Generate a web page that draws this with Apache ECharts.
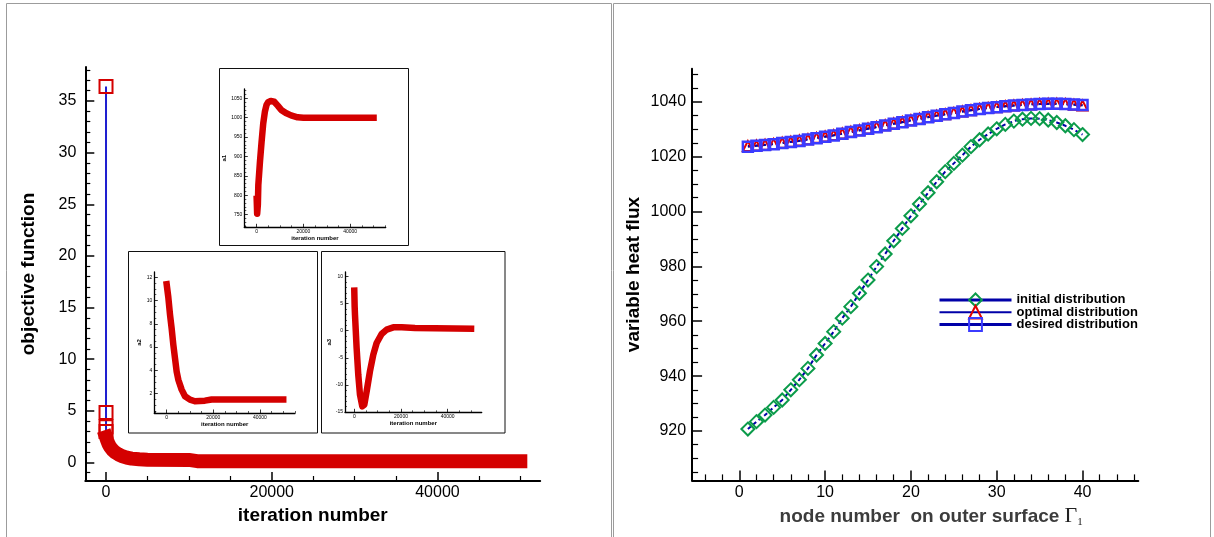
<!DOCTYPE html>
<html>
<head>
<meta charset="utf-8">
<title>objective function / variable heat flux</title>
<script src="https://cdn.jsdelivr.net/npm/echarts@6.0.0/dist/echarts.min.js"></script>
<style>
    html, body { margin: 0; padding: 0; background: #fff; }
    #chart { width: 1214px; height: 537px; }
</style>
</head>
<body>
<div id="chart"></div>
<script>
// ================================
// 1. data
// ================================
// left panel: objective function vs iteration number
const objStartIter = [0, 1, 2, 3];
const objStartValue = [36.4, 4.84, 3.45, 3.0];
const objIter = [0, 150, 300, 500, 800, 1100, 1500, 1900, 2500, 3100, 4000, 5000, 10000, 11000, 50000];
const objValue = [2.45, 2.1, 1.8, 1.5, 1.2, 0.98, 0.78, 0.62, 0.47, 0.37, 0.3, 0.26, 0.24, 0.12, 0.12];

// inset a1
const a1Iter = [0, 200, 500, 700, 1400, 2100, 2800, 3500, 4200, 4900, 6000, 7500, 9000, 10500, 12500, 14700, 17500, 20000, 50000];
const a1Value = [790, 752, 775, 826, 886, 938, 985, 1015, 1033, 1040, 1043, 1041, 1031, 1020, 1012, 1006, 1001, 1000, 1000];
// inset a2
const a2Iter = [0, 700, 1430, 2140, 2860, 3570, 4290, 5000, 6430, 7860, 10000, 12100, 16400, 19300, 50000];
const a2Value = [11.4, 10.3, 8.8, 7.6, 6.2, 5.06, 3.9, 3.2, 2.35, 1.78, 1.49, 1.35, 1.4, 1.5, 1.5];
// inset a3
const a3Iter = [0, 150, 300, 1000, 1700, 2430, 3430, 4290, 5290, 6700, 8140, 9570, 11700, 13860, 16700, 20300, 26000, 50000];
const a3Value = [7.4, 4.5, 2.9, -3.2, -8.1, -11.8, -13.95, -13.65, -11.2, -7.5, -4.4, -2.27, -0.6, 0.2, 0.62, 0.62, 0.5, 0.37];

// right panel: heat flux on the outer surface
const nodes = [1, 2, 3, 4, 5, 6, 7, 8, 9, 10, 11, 12, 13, 14, 15, 16, 17, 18, 19, 20,
    21, 22, 23, 24, 25, 26, 27, 28, 29, 30, 31, 32, 33, 34, 35, 36, 37, 38, 39, 40];
const initialFlux = [920.7, 923.4, 925.8, 928.6, 931.3, 935.0, 938.7, 942.8, 947.7, 951.9,
    956.2, 961.1, 965.3, 970.2, 975.0, 979.9, 984.5, 989.3, 993.8, 998.4,
    1002.7, 1006.8, 1010.8, 1014.5, 1017.5, 1020.5, 1023.6, 1026.1, 1028.2, 1030.1,
    1031.7, 1032.9, 1033.6, 1033.9, 1033.8, 1033.3, 1032.4, 1031.2, 1029.8, 1028.0];
const optimalFlux = [1023.8, 1024.0, 1024.3, 1024.6, 1025.0, 1025.4, 1025.8, 1026.3, 1026.8, 1027.3,
    1027.8, 1028.4, 1029.0, 1029.6, 1030.2, 1030.8, 1031.4, 1032.0, 1032.6, 1033.2,
    1033.8, 1034.4, 1034.9, 1035.4, 1035.9, 1036.4, 1036.9, 1037.3, 1037.7, 1038.0,
    1038.3, 1038.6, 1038.8, 1039.0, 1039.1, 1039.2, 1039.2, 1039.1, 1038.9, 1038.6];
const desiredFlux = [1023.6, 1023.9, 1024.2, 1024.5, 1024.9, 1025.3, 1025.7, 1026.2, 1026.7, 1027.2,
    1027.7, 1028.3, 1028.9, 1029.5, 1030.1, 1030.7, 1031.3, 1031.9, 1032.5, 1033.1,
    1033.7, 1034.3, 1034.9, 1035.4, 1035.9, 1036.4, 1036.9, 1037.3, 1037.7, 1038.0,
    1038.3, 1038.6, 1038.8, 1039.0, 1039.1, 1039.2, 1039.2, 1039.1, 1039.0, 1038.8];

// tick labels
const iterTicks = [0, 20000, 40000];
const objTicks = [0, 5, 10, 15, 20, 25, 30, 35];
const a1Ticks = [750, 800, 850, 900, 950, 1000, 1050];
const a2Ticks = [2, 4, 6, 8, 10, 12];
const a3Ticks = [-15, -10, -5, 0, 5, 10];
const nodeTicks = [0, 10, 20, 30, 40];
const fluxTicks = [920, 940, 960, 980, 1000, 1020, 1040];

// ================================
// 2. helpers
// ================================
const FONT = '"Liberation Sans", Arial, Helvetica, sans-serif';
const SERIF = '"Liberation Serif", "DejaVu Serif", serif';
const RED = '#d40000';
const NAVY = '#0000a8';

const zip = (xs, ys) => xs.map((x, i) => [x, ys[i]]);

// minor tick positions between the labelled ones
function minorTicks(min, max, step, majorStep) {
    const out = [];
    for (let v = Math.ceil(min / step) * step; v <= max + 1e-9; v += step) {
        const r = Math.round(v * 1000) / 1000;
        const k = r / majorStep;
        if (Math.abs(k - Math.round(k)) > 1e-6) out.push(r);
    }
    return out;
}

// one labelled axis + one axis only for the short minor ticks
function axisPair(dim, gridIndex, c) {
    const position = dim === 'x' ? 'bottom' : 'left';
    const major = {
        type: 'value', gridIndex, position, min: c.min, max: c.max,
        axisLine: { show: true, onZero: false, lineStyle: { color: '#000', width: c.lineWidth } },
        axisTick: {
            show: true, inside: true, length: c.majorLen, customValues: c.major,
            lineStyle: { color: '#000', width: c.tickWidth }
        },
        axisLabel: {
            customValues: c.major, margin: c.labelMargin, color: '#000',
            fontSize: c.fontSize, fontFamily: FONT, formatter: v => String(v)
        },
        splitLine: { show: false },
        name: c.name, nameLocation: 'middle', nameGap: c.nameGap,
        nameTextStyle: c.nameStyle,
        silent: true,
    };
    const minor = {
        type: 'value', gridIndex, position, offset: 0, min: c.min, max: c.max,
        axisLine: { show: false, onZero: false },
        axisTick: {
            show: true, inside: true, length: c.minorLen,
            customValues: minorTicks(c.min, c.max, c.minorStep, c.majorStep),
            lineStyle: { color: '#000', width: c.tickWidth * 0.8 }
        },
        axisLabel: { show: false },
        splitLine: { show: false },
        silent: true,
    };
    return [major, minor];
}

const bigName = { fontFamily: FONT, fontWeight: 'bold', fontSize: 19, color: '#000' };
const smallName = { fontFamily: FONT, fontWeight: 'bold', fontSize: 6, color: '#000' };

const mainStyle = { lineWidth: 2, tickWidth: 1.5, majorLen: 9, minorLen: 5, fontSize: 16 };
const insetStyle = { lineWidth: 1.3, tickWidth: 0.8, majorLen: 3.5, minorLen: 2, fontSize: 5, labelMargin: 2 };

// ================================
// 3. axes
// ================================
const xAxes = [
    // left main
    ...axisPair('x', 0, Object.assign({}, mainStyle, {
        min: -2500, max: 52400, major: iterTicks, majorStep: 20000, minorStep: 5000,
        labelMargin: 4, name: 'iteration number', nameGap: 18, nameStyle: bigName
    })),
    // a1
    ...axisPair('x', 1, Object.assign({}, insetStyle, {
        min: -5300, max: 55200, major: iterTicks, majorStep: 20000, minorStep: 5000,
        name: 'iteration number', nameGap: 6, nameStyle: smallName
    })),
    // a2
    ...axisPair('x', 2, Object.assign({}, insetStyle, {
        min: -5300, max: 55050, major: iterTicks, majorStep: 20000, minorStep: 5000,
        name: 'iteration number', nameGap: 7, nameStyle: smallName
    })),
    // a3
    ...axisPair('x', 3, Object.assign({}, insetStyle, {
        min: -3980, max: 54560, major: iterTicks, majorStep: 20000, minorStep: 5000,
        name: 'iteration number', nameGap: 7, nameStyle: smallName
    })),
    // right
    ...axisPair('x', 4, Object.assign({}, mainStyle, {
        min: -5.5, max: 46.5, major: nodeTicks, majorStep: 10, minorStep: 2,
        majorLen: 10, minorLen: 6, labelMargin: 4,
        name: 'node number  on outer surface {g|Γ}{s|1}', nameGap: 17,
        nameStyle: {
            fontFamily: FONT, fontWeight: 'bold', fontSize: 19, color: '#3c3c3c',
            padding: [0, 0, 0, 32],
            rich: {
                g: { fontFamily: SERIF, fontSize: 22, color: '#222', fontWeight: 'normal' },
                s: { fontFamily: SERIF, fontSize: 11, color: '#222', fontWeight: 'normal', verticalAlign: 'bottom' }
            }
        }
    })),
];

const yAxes = [
    ...axisPair('y', 0, Object.assign({}, mainStyle, {
        min: -1.8, max: 38.3, major: objTicks, majorStep: 5, minorStep: 1,
        labelMargin: 9, name: 'objective function', nameGap: 47, nameStyle: bigName
    })),
    ...axisPair('y', 1, Object.assign({}, insetStyle, {
        min: 717, max: 1074, major: a1Ticks, majorStep: 50, minorStep: 10,
        name: 'a1', nameGap: 14, nameStyle: smallName
    })),
    ...axisPair('y', 2, Object.assign({}, insetStyle, {
        min: 0.34, max: 12.45, major: a2Ticks, majorStep: 2, minorStep: 0.5,
        name: 'a2', nameGap: 8, nameStyle: smallName
    })),
    ...axisPair('y', 3, Object.assign({}, insetStyle, {
        min: -15.05, max: 10.83, major: a3Ticks, majorStep: 5, minorStep: 1,
        name: 'a3', nameGap: 13, nameStyle: smallName
    })),
    ...axisPair('y', 4, Object.assign({}, mainStyle, {
        min: 902, max: 1052, major: fluxTicks, majorStep: 20, minorStep: 5,
        majorLen: 10, minorLen: 6, labelMargin: 6,
        name: 'variable heat flux', nameGap: 49, nameStyle: bigName
    })),
];

// ================================
// 4. series
// ================================
const bandLine = (xi, data, width) => ({
    type: 'line', xAxisIndex: xi, yAxisIndex: xi, data, symbol: 'none',
    lineStyle: { color: RED, width, cap: 'square', join: 'round' },
    silent: true, emphasis: { disabled: true }, z: 3,
});

const hollow = (color, w) => ({ color: 'rgba(0,0,0,0)', borderColor: color, borderWidth: w });
const dashed = { color: NAVY, width: 2, type: [4, 3] };

const series = [
    {
        type: 'line', name: 'objective', xAxisIndex: 0, yAxisIndex: 0,
        data: zip(objStartIter, objStartValue),
        lineStyle: { color: '#1f1fd0', width: 2 },
        symbol: 'rect', symbolSize: 13, itemStyle: hollow(RED, 2),
        silent: true, emphasis: { disabled: true }, z: 2,
    },
    bandLine(0, zip(objIter, objValue), 14),
    bandLine(2, zip(a1Iter, a1Value), 6.5),
    bandLine(4, zip(a2Iter, a2Value), 6.5),
    bandLine(6, zip(a3Iter, a3Value), 6.5),
    {
        type: 'line', name: 'initial distribution', xAxisIndex: 8, yAxisIndex: 8,
        data: zip(nodes, initialFlux), lineStyle: dashed,
        symbol: 'diamond', symbolSize: 13, itemStyle: hollow('#0b9b4a', 2),
        silent: true, emphasis: { disabled: true },
    },
    {
        type: 'line', name: 'optimal distribution', xAxisIndex: 8, yAxisIndex: 8,
        data: zip(nodes, optimalFlux), lineStyle: dashed,
        symbol: 'triangle', symbolSize: 10, itemStyle: hollow('#e00000', 2),
        silent: true, emphasis: { disabled: true },
    },
    {
        type: 'line', name: 'desired distribution', xAxisIndex: 8, yAxisIndex: 8,
        data: zip(nodes, desiredFlux), lineStyle: dashed,
        symbol: 'rect', symbolSize: 10, itemStyle: hollow('#3b3bff', 2.5),
        silent: true, emphasis: { disabled: true },
    },
];

// ================================
// 5. layout + render
// ================================
const grid = (left, top, width, height) => ({ left, top, width, height, containLabel: false, outerBoundsMode: 'none' });

const box = (x, y, w, h, stroke) => ({
    type: 'rect', silent: true, z: -1,
    shape: { x, y, width: w, height: h },
    style: { fill: 'none', stroke, lineWidth: 1 },
});

const chart = echarts.init(document.getElementById('chart'), null, { renderer: 'canvas' });
chart.setOption({
    backgroundColor: '#fff',
    animation: false,
    grid: [
        grid(85.3, 67, 454.9, 414),      // objective function
        grid(244.3, 89, 141.4, 138.3),   // a1
        grid(154.3, 272, 140.7, 141),    // a2
        grid(345, 272, 136.7, 140.3),    // a3
        grid(692.1, 68.7, 446.2, 411.7), // heat flux
    ],
    xAxis: xAxes,
    yAxis: yAxes,
    series,
    legend: {
        left: 933, top: 287.5, orient: 'vertical',
        itemWidth: 72, itemHeight: 16, itemGap: -2.5,
        selectedMode: false,
        textStyle: { fontFamily: FONT, fontWeight: 'bold', fontSize: 13, color: '#000' },
        data: [
            { name: 'initial distribution', lineStyle: { type: 'solid', width: 3, color: NAVY } },
            { name: 'optimal distribution', lineStyle: { type: 'solid', width: 2, color: NAVY } },
            { name: 'desired distribution', lineStyle: { type: 'solid', width: 3, color: NAVY } },
        ],
    },
    graphic: [
        box(6.5, 3.5, 605, 600, '#9c9c9c'),
        box(613.5, 3.5, 597, 600, '#9c9c9c'),
        box(219.5, 68.5, 189, 177, '#111'),
        box(128.5, 251.5, 189, 181.5, '#111'),
        box(321.5, 251.5, 183.5, 181.5, '#111'),
    ],
});
</script>
</body>
</html>
